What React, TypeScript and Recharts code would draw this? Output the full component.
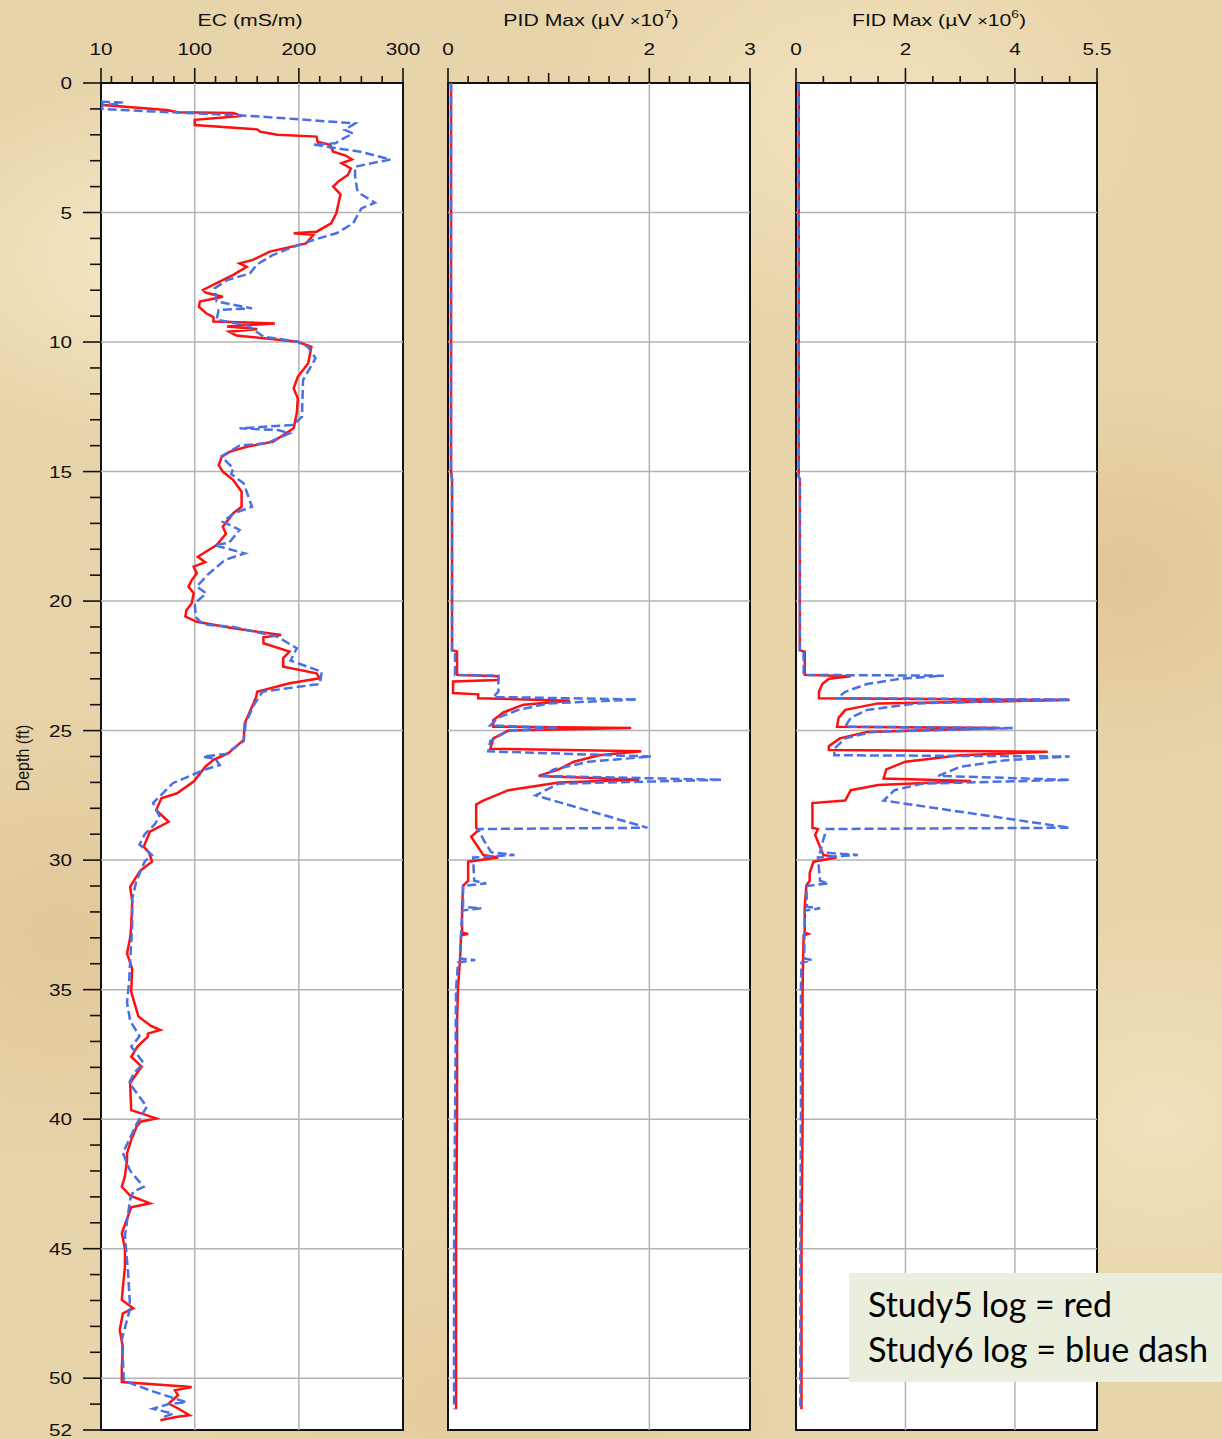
import React from 'react';
import { ScatterChart, Scatter, XAxis, YAxis, ReferenceLine, ReferenceArea } from 'recharts';

// [depth (ft), reading]
type Pt = [number, number];

const depthTicks = Array.from({ length: 53 }, (_, i) => i);
const depthLabels = [0, 5, 10, 15, 20, 25, 30, 35, 40, 45, 50, 52];
const depthGrid = [5, 10, 15, 20, 25, 30, 35, 40, 45, 50];

const ecTicks = [10, 20, 40, 60, 80, 100, 120, 140, 160, 180, 200, 220, 240, 260, 280, 300];
const ecLabels = [10, 100, 200, 300];
const ecGrid = [100, 200];

const pidTicks = [0, 0.2, 0.4, 0.6, 0.8, 1, 1.2, 1.4, 1.6, 1.8, 2, 2.2, 2.4, 2.6, 2.8, 3];
const pidLabels = [0, 2, 3];
const pidGrid = [2];

const fidTicks = [0, 0.5, 1, 1.5, 2, 2.5, 3, 3.5, 4, 4.5, 5, 5.5];
const fidLabels = [0, 2, 4, 5.5];
const fidGrid = [2, 4];

const ecStudy5: Pt[] = [
  [0.75, 10], [0.85, 12], [1.04, 73], [1.13, 84], [1.16, 137], [1.27, 145], [1.42, 100], [1.62, 100],
  [1.79, 160], [1.88, 163], [1.96, 174], [2.0, 179], [2.07, 217], [2.27, 218], [2.39, 230], [2.65, 233],
  [2.8, 245], [2.95, 251], [3.1, 241], [3.3, 250], [3.55, 247], [3.8, 238], [4.0, 233], [4.3, 240],
  [4.65, 238], [5.03, 236], [5.42, 231], [5.74, 217], [5.8, 195], [5.86, 214], [6.19, 207], [6.51, 172],
  [6.83, 156], [6.96, 143], [7.1, 150], [7.41, 137], [7.73, 121], [7.99, 108], [8.1, 111], [8.25, 127],
  [8.44, 105], [8.64, 104], [8.89, 111], [9.04, 118], [9.21, 118], [9.28, 177], [9.4, 131], [9.5, 160],
  [9.6, 133], [9.75, 140], [9.99, 199], [10.18, 212], [10.82, 209], [11.34, 199], [11.79, 195], [12.17, 199],
  [12.75, 198], [13.33, 195], [13.85, 175], [14.04, 150], [14.23, 134], [14.43, 126], [14.75, 123], [15.0, 127],
  [15.33, 137], [15.78, 145], [16.36, 145], [16.61, 137], [17.13, 127], [17.4, 130], [17.84, 121], [18.29, 103],
  [18.5, 110], [18.67, 99], [18.93, 102], [19.2, 97], [19.44, 94], [19.7, 99], [20.09, 97], [20.35, 92],
  [20.6, 91], [20.8, 102], [21.05, 137], [21.31, 183], [21.4, 166], [21.63, 166], [21.95, 191], [22.2, 185],
  [22.53, 185], [22.79, 217], [22.98, 220], [23.17, 191], [23.5, 160], [23.7, 159], [24.08, 155], [24.72, 148],
  [25.36, 147], [25.88, 132], [26.13, 118], [26.4, 110], [26.97, 99], [27.42, 83], [27.61, 68], [28.07, 63],
  [28.52, 75], [28.9, 57], [29.48, 51], [29.7, 56], [30.06, 59], [30.4, 48], [30.64, 44], [31.03, 38],
  [31.6, 40], [32.57, 39], [33.0, 38], [33.6, 35], [34.2, 40], [35.08, 39], [35.5, 42], [36.04, 46],
  [36.4, 58], [36.56, 67], [36.7, 55], [36.82, 55], [37.2, 45], [37.59, 39], [37.97, 49], [38.6, 38],
  [39.65, 39], [39.97, 63], [40.1, 48], [40.3, 44], [40.8, 39], [41.32, 35], [41.58, 35], [42.2, 33],
  [42.61, 30], [42.95, 38], [43.25, 57], [43.4, 39], [44.4, 30], [45.0, 33], [45.7, 33], [46.5, 31],
  [46.98, 30], [47.3, 41], [47.5, 31], [48.14, 28], [48.8, 31], [49.6, 30], [50.15, 30], [50.34, 97],
  [50.47, 81], [50.66, 84], [50.98, 75], [51.17, 84], [51.43, 95], [51.5, 82], [51.62, 67],
];

const ecStudy6: Pt[] = [
  [0.72, 10], [0.75, 30], [0.8, 30], [0.85, 12], [1.0, 10], [1.1, 60], [1.25, 145], [1.4, 200],
  [1.56, 254], [1.81, 244], [1.95, 252], [2.2, 240], [2.33, 235], [2.37, 214], [2.45, 225], [2.5, 233],
  [2.65, 259], [2.95, 288], [3.23, 254], [3.6, 254], [4.13, 256], [4.3, 260], [4.62, 273], [4.84, 260],
  [5.42, 252], [5.8, 236], [6.06, 214], [6.32, 195], [6.64, 175], [7.0, 160], [7.35, 153], [7.61, 131],
  [7.93, 119], [8.43, 121], [8.7, 155], [8.76, 123], [9.14, 121], [9.34, 150], [9.79, 166], [9.99, 199],
  [10.2, 209], [10.63, 216], [11.47, 204], [12.88, 203], [13.2, 195], [13.33, 143], [13.4, 180], [13.52, 191],
  [13.9, 170], [14.0, 143], [14.4, 126], [14.6, 130], [14.88, 137], [15.1, 135], [15.45, 147], [16.36, 155],
  [16.6, 138], [16.94, 127], [17.25, 143], [17.75, 133], [17.84, 119], [18.16, 148], [18.41, 129], [19.0, 112],
  [19.44, 102], [19.7, 111], [20.09, 100], [20.62, 101], [20.9, 108], [21.0, 137], [21.37, 179], [21.82, 198],
  [22.3, 192], [22.73, 222], [23.2, 220], [23.5, 165], [24.0, 157], [24.7, 149], [25.4, 147], [25.9, 130],
  [26.0, 108], [26.1, 120], [26.33, 124], [26.5, 110], [27.03, 79], [27.8, 60], [28.3, 66], [28.6, 62],
  [29.0, 52], [29.4, 47], [29.8, 59], [30.05, 52], [30.8, 44], [31.5, 40], [32.5, 40], [33.9, 38],
  [34.7, 37], [35.5, 35], [36.2, 38], [36.8, 47], [37.2, 39], [37.84, 51], [38.2, 42], [38.6, 37],
  [39.52, 54], [40.2, 44], [40.8, 37], [41.3, 31], [42.0, 38], [42.61, 51], [42.8, 41], [43.1, 38],
  [44.5, 33], [45.93, 36], [47.3, 38], [48.5, 30], [50.1, 32], [50.47, 57], [50.93, 92], [51.0, 75],
  [51.18, 60], [51.37, 79], [51.5, 70],
];

const pidStudy5: Pt[] = [
  [0, 0.03], [5, 0.03], [10, 0.03], [15, 0.03], [15.3, 0.04], [21.9, 0.04], [21.95, 0.09], [22.85, 0.09],
  [22.9, 0.5], [23.05, 0.5], [23.1, 0.05], [23.55, 0.05], [23.6, 0.3], [23.75, 0.3], [23.85, 1.21], [24.0, 0.75],
  [24.3, 0.55], [24.6, 0.45], [24.85, 0.45], [24.9, 1.82], [25.0, 0.6], [25.3, 0.45], [25.7, 0.42], [25.8, 1.92],
  [25.95, 1.5], [26.2, 1.25], [26.5, 1.1], [26.75, 0.9], [26.9, 1.9], [27.0, 1.1], [27.3, 0.6], [27.7, 0.35],
  [27.85, 0.28], [28.75, 0.28], [28.85, 0.3], [29.1, 0.23], [29.8, 0.35], [29.9, 0.5], [30.06, 0.2], [30.8, 0.2],
  [30.98, 0.15], [31.8, 0.14], [32.8, 0.14], [32.85, 0.2], [32.9, 0.13], [33.8, 0.12], [34.9, 0.1], [36.2, 0.09],
  [37.9, 0.09], [39.9, 0.09], [45, 0.08], [51.2, 0.08],
];

const pidStudy6: Pt[] = [
  [0, 0.03], [15, 0.03], [15.3, 0.04], [21.9, 0.04], [21.95, 0.07], [22.85, 0.07], [22.88, 0.5], [23.5, 0.5],
  [23.7, 0.45], [23.8, 1.88], [23.95, 1.0], [24.2, 0.7], [24.5, 0.5], [24.8, 0.42], [24.9, 1.1], [25.0, 0.6],
  [25.4, 0.42], [25.8, 0.4], [26.0, 2.02], [26.2, 1.4], [26.5, 1.05], [26.75, 0.95], [26.9, 2.72], [27.05, 1.1],
  [27.5, 0.87], [28.75, 1.98], [28.8, 0.3], [29.2, 0.35], [29.7, 0.43], [29.8, 0.66], [29.9, 0.25], [30.8, 0.26],
  [30.9, 0.38], [31.0, 0.15], [31.8, 0.15], [31.86, 0.33], [31.95, 0.14], [33.8, 0.12], [33.86, 0.27], [33.95, 0.1],
  [35, 0.08], [40, 0.07], [45, 0.06], [51.2, 0.06],
];

const fidStudy5: Pt[] = [
  [0, 0.05], [15.2, 0.05], [15.3, 0.07], [21.9, 0.07], [21.95, 0.16], [22.85, 0.16], [22.9, 1.0], [23.0, 0.6],
  [23.2, 0.48], [23.5, 0.42], [23.75, 0.42], [23.82, 5.0], [23.95, 1.5], [24.2, 0.9], [24.5, 0.78], [24.85, 0.75],
  [24.9, 3.7], [25.05, 1.3], [25.3, 0.8], [25.6, 0.6], [25.75, 0.6], [25.82, 4.6], [25.95, 3.0], [26.2, 2.0],
  [26.5, 1.65], [26.85, 1.6], [26.95, 3.2], [27.1, 1.5], [27.3, 1.0], [27.7, 0.9], [27.8, 0.3], [28.75, 0.3],
  [28.8, 0.4], [29.03, 0.35], [29.8, 0.5], [29.9, 0.74], [30.06, 0.32], [30.5, 0.25], [30.8, 0.25], [30.98, 0.19],
  [31.8, 0.16], [32.8, 0.16], [32.85, 0.22], [32.9, 0.14], [33.86, 0.13], [35, 0.12], [40, 0.12], [45, 0.1],
  [51.2, 0.1],
];

const fidStudy6: Pt[] = [
  [0, 0.05], [15.2, 0.05], [15.3, 0.07], [21.9, 0.07], [21.95, 0.14], [22.85, 0.14], [22.88, 2.7], [23.0, 1.9],
  [23.2, 1.3], [23.5, 0.9], [23.75, 0.75], [23.8, 5.0], [23.95, 2.2], [24.2, 1.3], [24.5, 1.0], [24.85, 0.9],
  [24.9, 3.96], [25.05, 1.4], [25.3, 0.9], [25.7, 0.7], [25.95, 0.7], [26.0, 5.0], [26.15, 3.8], [26.4, 3.0],
  [26.75, 2.6], [26.9, 5.0], [27.05, 2.3], [27.3, 1.8], [27.7, 1.6], [28.75, 5.0], [28.8, 0.56], [29.2, 0.5],
  [29.7, 0.44], [29.8, 1.13], [29.9, 0.4], [30.8, 0.44], [30.9, 0.59], [31.0, 0.19], [31.8, 0.2], [31.86, 0.44],
  [31.95, 0.16], [33.8, 0.15], [33.86, 0.29], [33.95, 0.1], [35, 0.09], [40, 0.09], [45, 0.08], [51.2, 0.08],
];

const FONT = '"Liberation Sans", Arial, sans-serif';
const RED = '#ff1010';
const BLUE = '#4a70e4';
const GRID = '#b3b3b3';
const TEXT = '#111';

const toRows = (pts: Pt[]) => pts.map(([d, v]) => ({ d, v }));
const has = (list: number[], v: number) => list.some((l) => Math.abs(l - v) < 1e-6);

const TopTick = (props: any) => {
  const { x, y, payload, labels, mids } = props;
  const val = payload.value;
  const major = has(labels, val);
  const len = major ? 15 : has(mids, val) ? 10 : 7;
  return (
    <g>
      <line x1={x} x2={x} y1={y} y2={y - len} stroke="#111" strokeWidth={1.6} />
      {major && (
        <text
          transform={`translate(${x},${y - 28}) scale(1.22,1)`}
          textAnchor="middle"
          fontFamily={FONT}
          fontSize={17}
          fill={TEXT}
        >
          {String(val)}
        </text>
      )}
    </g>
  );
};

const LeftTick = (props: any) => {
  const { x, y, payload } = props;
  const major = has(depthLabels, payload.value);
  return (
    <g>
      <line x1={x} x2={x - (major ? 18 : 11)} y1={y} y2={y} stroke="#111" strokeWidth={1.6} />
      {major && (
        <text
          transform={`translate(${x - 29},${y + 6}) scale(1.22,1)`}
          textAnchor="end"
          fontFamily={FONT}
          fontSize={17}
          fill={TEXT}
        >
          {String(payload.value)}
        </text>
      )}
    </g>
  );
};

type PanelProps = {
  left: number;
  width: number;
  margin: { top: number; right: number; bottom: number; left: number };
  domain: [number, number];
  ticks: number[];
  labels: number[];
  mids: number[];
  grid: number[];
  study5: Pt[];
  study6: Pt[];
  showDepth: boolean;
};

const LogPanel: React.FC<PanelProps> = ({ left, width, margin, domain, ticks, labels, mids, grid, study5, study6, showDepth }) => (
  <div style={{ position: 'absolute', left, top: 0 }}>
    <ScatterChart width={width} height={1439} margin={margin}>
      <XAxis
        type="number"
        dataKey="v"
        orientation="top"
        domain={domain}
        ticks={ticks}
        interval={0}
        height={30}
        tickSize={0}
        tickMargin={0}
        axisLine={false}
        tickLine={false}
        allowDataOverflow
        tick={(p: any) => <TopTick {...p} labels={labels} mids={mids} />}
      />
      <YAxis
        type="number"
        dataKey="d"
        domain={[0, 52]}
        reversed
        allowDataOverflow
        hide={!showDepth}
        width={60}
        ticks={depthTicks}
        interval={0}
        tickSize={0}
        tickMargin={0}
        axisLine={false}
        tickLine={false}
        tick={(p: any) => <LeftTick {...p} />}
      />
      <ReferenceArea x1={domain[0]} x2={domain[1]} y1={0} y2={52} fill="#ffffff" fillOpacity={1} stroke="none" />
      {grid.map((g) => (
        <ReferenceLine key={`x${g}`} x={g} stroke={GRID} strokeWidth={1.5} />
      ))}
      {depthGrid.map((g) => (
        <ReferenceLine key={`y${g}`} y={g} stroke={GRID} strokeWidth={1.5} />
      ))}
      <ReferenceArea x1={domain[0]} x2={domain[1]} y1={0} y2={52} fill="none" stroke="#111" strokeWidth={2} />
      <Scatter
        data={toRows(study5)}
        line={{ stroke: RED, strokeWidth: 2.5 }}
        shape={() => <g />}
        isAnimationActive={false}
      />
      <Scatter
        data={toRows(study6)}
        line={{ stroke: BLUE, strokeWidth: 2.5, strokeDasharray: '9 4' }}
        shape={() => <g />}
        isAnimationActive={false}
      />
    </ScatterChart>
  </div>
);

const parchment = [
  'radial-gradient(ellipse 260px 180px at 12% 18%, rgba(248,236,204,0.8), rgba(248,236,204,0))',
  'radial-gradient(ellipse 300px 220px at 70% 8%, rgba(246,232,198,0.7), rgba(246,232,198,0))',
  'radial-gradient(ellipse 240px 200px at 92% 40%, rgba(214,186,134,0.5), rgba(214,186,134,0))',
  'radial-gradient(ellipse 280px 240px at 5% 65%, rgba(218,190,140,0.55), rgba(218,190,140,0))',
  'radial-gradient(ellipse 260px 220px at 95% 78%, rgba(244,230,196,0.7), rgba(244,230,196,0))',
  'radial-gradient(ellipse 320px 200px at 40% 98%, rgba(222,196,148,0.5), rgba(222,196,148,0))',
].join(',');

export default function App() {
  return (
    <div
      style={{
        position: 'absolute',
        left: 0,
        top: 0,
        width: 1222,
        height: 1439,
        overflow: 'hidden',
        backgroundColor: '#e8d4aa',
        backgroundImage: parchment,
      }}
    >
      <LogPanel
        left={0}
        width={420}
        margin={{ top: 53, right: 17, bottom: 9, left: 41 }}
        domain={[10, 300]}
        ticks={ecTicks}
        labels={ecLabels}
        mids={[]}
        grid={ecGrid}
        study5={ecStudy5}
        study6={ecStudy6}
        showDepth
      />
      <LogPanel
        left={430}
        width={340}
        margin={{ top: 53, right: 20, bottom: 9, left: 18 }}
        domain={[0, 3]}
        ticks={pidTicks}
        labels={pidLabels}
        mids={[1]}
        grid={pidGrid}
        study5={pidStudy5}
        study6={pidStudy6}
        showDepth={false}
      />
      <LogPanel
        left={780}
        width={340}
        margin={{ top: 53, right: 23, bottom: 9, left: 16 }}
        domain={[0, 5.5]}
        ticks={fidTicks}
        labels={fidLabels}
        mids={[]}
        grid={fidGrid}
        study5={fidStudy5}
        study6={fidStudy6}
        showDepth={false}
      />
      <svg width={1222} height={1439} style={{ position: 'absolute', left: 0, top: 0, pointerEvents: 'none' }}>
        <g fontFamily={FONT} fill={TEXT} fontSize={17}>
          <text transform="translate(250,26) scale(1.25,1)" textAnchor="middle">EC (mS/m)</text>
          <text transform="translate(591,26) scale(1.25,1)" textAnchor="middle">
            PID Max (µV <tspan fontSize={14}>×</tspan>10<tspan fontSize={11} dy={-8}>7</tspan>
            <tspan dy={8}>)</tspan>
          </text>
          <text transform="translate(939,26) scale(1.25,1)" textAnchor="middle">
            FID Max (µV <tspan fontSize={14}>×</tspan>10<tspan fontSize={11} dy={-8}>6</tspan>
            <tspan dy={8}>)</tspan>
          </text>
          <text transform="translate(29,758) rotate(-90) scale(1,1.2)" textAnchor="middle" fontSize={16}>
            Depth (ft)
          </text>
        </g>
        <rect x={849} y={1273} width={373} height={109} fill="#eaeedd" />
        <g fontFamily="Lato, 'Open Sans', sans-serif" fontSize={34} fill="#000">
          <text x={868} y={1317} textLength={244} lengthAdjust="spacingAndGlyphs">Study5 log = red</text>
          <text x={868} y={1362} textLength={340} lengthAdjust="spacingAndGlyphs">Study6 log = blue dash</text>
        </g>
      </svg>
    </div>
  );
}
